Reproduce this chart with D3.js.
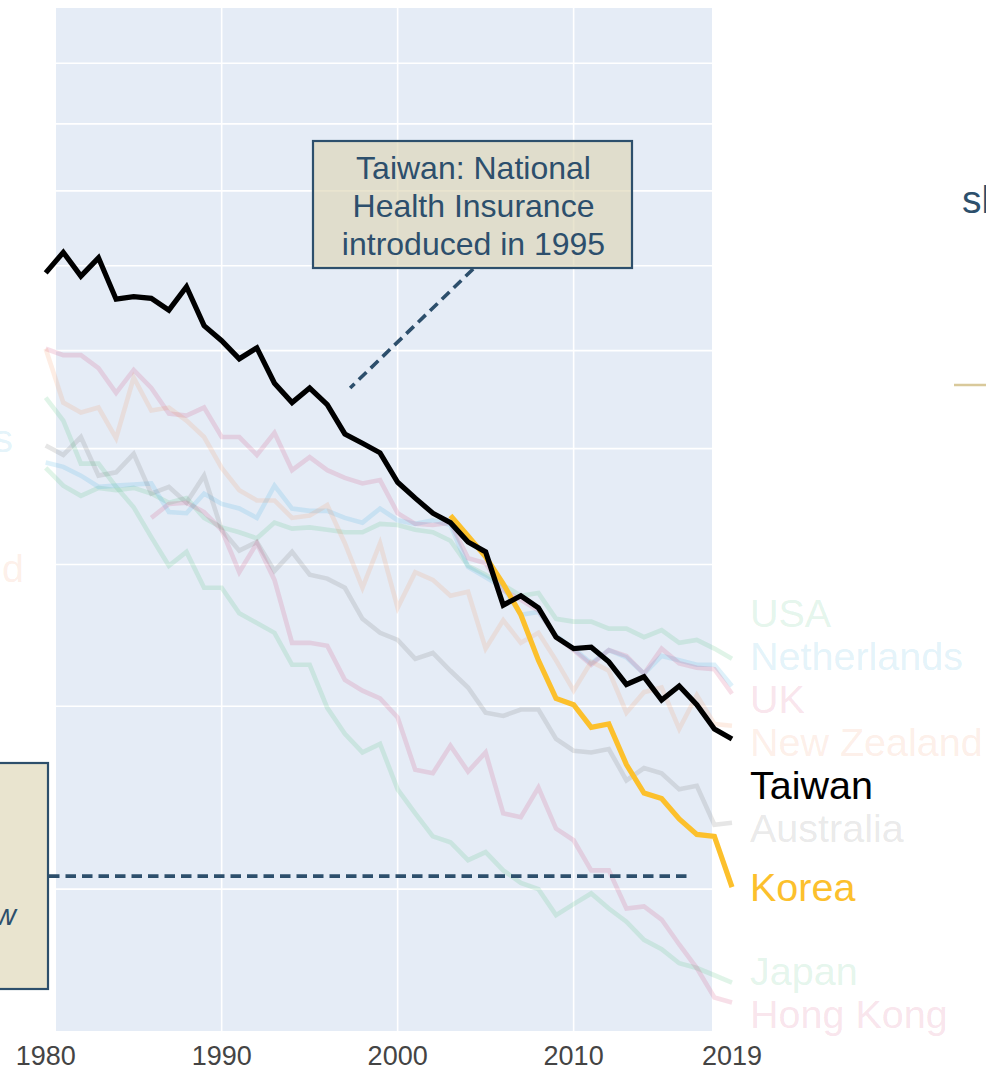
<!DOCTYPE html>
<html><head><meta charset="utf-8">
<script src="https://cdn.jsdelivr.net/npm/d3@7/dist/d3.min.js"></script>
<style>
body{margin:0;background:#fff;overflow:hidden;}
svg{display:block;font-family:Arial,"Liberation Sans",sans-serif;}
</style>
</head><body>
<svg id="chart" width="986" height="1074"></svg>
<script>
// ---------------- data ----------------
const years = d3.range(1980, 2020);
const xTickLabels = [1980, 1990, 2000, 2010, 2019];
const xGridYears = [1990, 2000, 2010];
const yGridValues = [3, 4, 5, 6, 7, 8, 9, 10, 11];

const countries = ["USA", "Netherlands", "UK", "New Zealand", "Taiwan", "Australia", "Korea", "Japan", "Hong Kong"];

const usa = [5.82, 5.66, 5.57, 5.64, 5.62, 5.64, 5.59, 5.51, 5.55, 5.38,
             5.30, 5.26, 5.21, 5.34, 5.29, 5.30, 5.28, 5.26, 5.26, 5.33,
             5.32, 5.28, 5.26, 5.19, 4.99, 4.92, 4.84, 4.76, 4.78, 4.59,
             4.57, 4.57, 4.52, 4.52, 4.46, 4.51, 4.42, 4.44, 4.38, 4.31];
const netherlands = [5.87, 5.83, 5.75, 5.65, 5.66, 5.67, 5.68, 5.43, 5.42, 5.59,
             5.50, 5.46, 5.38, 5.66, 5.46, 5.44, 5.44, 5.38, 5.34, 5.46,
             5.36, 5.33, 5.36, 5.32, 4.98, 4.90, 4.82, 4.62, 4.64, 4.47,
             4.38, 4.28, 4.37, 4.32, 4.21, 4.33, 4.30, 4.27, 4.27, 4.13];
const uk = [7.02, 6.95, 6.95, 6.81, 6.55, 6.79, 6.60, 6.34, 6.32, 6.40,
             6.11, 6.11, 5.94, 6.15, 5.80, 5.92, 5.80, 5.73, 5.68, 5.71,
             5.42, 5.33, 5.32, 5.34, 5.05, 5.01, 4.80, 4.73, 4.65, 4.46,
             4.37, 4.27, 4.37, 4.33, 4.21, 4.38, 4.28, 4.25, 4.24, 4.08];
const newZealand = [7.02, 6.45, 6.35, 6.40, 6.10, 6.71, 6.37, 6.40, 6.27, 6.11,
             5.82, 5.62, 5.53, 5.53, 5.38, 5.40, 5.49, 5.17, 4.82, 5.17,
             4.67, 4.94, 4.88, 4.76, 4.79, 4.38, 4.58, 4.42, 4.49, 4.30,
             4.10, 4.29, 4.23, 3.96, 4.09, 4.12, 3.86, 4.07, 3.89, 3.88];
const taiwan = [7.91, 8.17, 7.87, 8.10, 7.59, 7.62, 7.60, 7.46, 7.74, 7.28,
             7.11, 6.91, 7.03, 6.65, 6.45, 6.60, 6.43, 6.14, 6.05, 5.96,
             5.69, 5.55, 5.42, 5.34, 5.18, 5.10, 4.69, 4.76, 4.67, 4.46,
             4.38, 4.39, 4.29, 4.14, 4.19, 4.04, 4.13, 4.01, 3.86, 3.80];
const australia = [6.03, 5.94, 6.11, 5.75, 5.78, 5.95, 5.59, 5.65, 5.51, 5.75,
             5.28, 5.11, 5.18, 4.95, 5.10, 4.92, 4.89, 4.82, 4.59, 4.49,
             4.44, 4.31, 4.35, 4.23, 4.12, 3.96, 3.94, 3.98, 3.98, 3.80,
             3.73, 3.72, 3.74, 3.56, 3.63, 3.60, 3.51, 3.53, 3.32, 3.33];
// Korea: 2003-2019
const korea = [5.40, 5.23, 5.06, 4.85, 4.62, 4.30, 4.05, 4.01, 3.87, 3.89,
             3.65, 3.49, 3.46, 3.35, 3.27, 3.26, 3.01];
const japan = [6.50, 6.27, 5.86, 5.86, 5.65, 5.47, 5.22, 4.99, 5.10, 4.82,
             4.82, 4.63, 4.56, 4.49, 4.27, 4.27, 3.99, 3.83, 3.72, 3.77,
             3.51, 3.38, 3.26, 3.23, 3.14, 3.18, 3.09, 3.03, 3.00, 2.88,
             2.93, 2.98, 2.91, 2.85, 2.77, 2.73, 2.67, 2.65, 2.62, 2.59];
// Hong Kong: 1986-2019
const hongKong = [5.38, 5.50, 5.51, 5.43,
             5.28, 4.94, 5.17, 4.88, 4.42, 4.42, 4.40, 4.17, 4.10, 4.05,
             3.93, 3.62, 3.60, 3.76, 3.61, 3.72, 3.38, 3.36, 3.52, 3.30,
             3.24, 3.09, 3.09, 2.91, 2.92, 2.86, 2.75, 2.65, 2.53, 2.51];
const startYears = [1980, 1980, 1980, 1980, 1980, 1980, 2003, 1980, 1986];
const seriesValues = [usa, netherlands, uk, newZealand, taiwan, australia, korea, japan, hongKong];

const annotationText = ["Taiwan: National", "Health Insurance", "introduced in 1995"];

// ---------------- styles / layout ----------------
const colors = {
  "USA": "#3ebc73", "Netherlands": "#30a8de", "UK": "#d03773", "New Zealand": "#f28e58",
  "Taiwan": "#000000", "Australia": "#666666", "Korea": "#fcc02c", "Japan": "#3ebc73", "Hong Kong": "#d03773"
};
const highlighted = new Set(["Taiwan", "Korea"]);
const plot = {left: 56, right: 712, top: 8, bottom: 1031};
const navy = "#2d4f6c";
const labelSize = 39.5;

const svg = d3.select("#chart");
const x = d3.scaleLinear().domain([1980, 2019]).range([45.7, 732]);
const y = d3.scaleLog().domain([2.4, 12]).range([1031, 8]);

// background
svg.append("rect").attr("x", plot.left).attr("y", plot.top)
  .attr("width", plot.right - plot.left).attr("height", plot.bottom - plot.top)
  .attr("fill", "#E5ECF6");

// grid
svg.append("g").selectAll("line").data(yGridValues).join("line")
  .attr("x1", plot.left).attr("x2", plot.right)
  .attr("y1", d => y(d)).attr("y2", d => y(d))
  .attr("stroke", "#fff").attr("stroke-width", 1.6);
svg.append("g").selectAll("line").data(xGridYears).join("line")
  .attr("x1", d => x(d)).attr("x2", d => x(d))
  .attr("y1", plot.top).attr("y2", plot.bottom)
  .attr("stroke", "#fff").attr("stroke-width", 1.6);

// x tick labels
svg.append("g").selectAll("text").data(xTickLabels).join("text")
  .attr("x", d => x(d)).attr("y", 1065)
  .attr("text-anchor", "middle").attr("font-size", 27).attr("fill", "#444")
  .text(d => d);

// series
const series = countries.map((c, i) => ({
  name: c,
  points: seriesValues[i].map((v, j) => ({year: startYears[i] + j, value: v}))
}));

const line = d3.line().x(d => x(d.year)).y(d => y(d.value));
const order = ["USA", "Netherlands", "UK", "New Zealand", "Australia", "Japan", "Hong Kong", "Korea", "Taiwan"];
const gLines = svg.append("g");
order.forEach(name => {
  const s = series.find(d => d.name === name);
  const hi = highlighted.has(name);
  gLines.append("path").datum(s.points)
    .attr("d", line).attr("fill", "none")
    .attr("stroke", colors[name])
    .attr("stroke-width", hi ? 5.2 : 4.6)
    .attr("stroke-opacity", hi ? 1 : 0.16);
});

// end labels with simple cluster-based overlap avoidance
const gap = 43;
let items = series.map(s => ({name: s.name, target: y(s.points[s.points.length - 1].value)}))
  .sort((a, b) => a.target - b.target);
let clusters = items.map(it => ({members: [it]}));
function layoutCluster(c) {
  const mean = d3.mean(c.members, m => m.target);
  const n = c.members.length;
  c.members.forEach((m, k) => m.pos = mean - (n - 1) / 2 * gap + k * gap);
}
clusters.forEach(layoutCluster);
let merged = true;
while (merged) {
  merged = false;
  for (let i = 1; i < clusters.length; i++) {
    const a = clusters[i - 1], b = clusters[i];
    if (b.members[0].pos - a.members[a.members.length - 1].pos < gap) {
      a.members = a.members.concat(b.members);
      layoutCluster(a);
      clusters.splice(i, 1);
      merged = true;
      break;
    }
  }
}
svg.append("g").selectAll("text").data(items).join("text")
  .attr("x", x(2019) + 18).attr("y", d => d.pos + 14)
  .attr("font-size", labelSize)
  .attr("fill", d => colors[d.name])
  .attr("fill-opacity", d => highlighted.has(d.name) ? 1 : 0.15)
  .text(d => d.name);

// left-edge labels (neighbouring panel, cut off)
svg.append("text").attr("x", 13).attr("y", 452).attr("text-anchor", "end")
  .attr("font-size", labelSize).attr("fill", colors["Netherlands"]).attr("fill-opacity", 0.15).text("Netherlands");
svg.append("text").attr("x", 24).attr("y", 582).attr("text-anchor", "end")
  .attr("font-size", labelSize).attr("fill", colors["New Zealand"]).attr("fill-opacity", 0.15).text("New Zealand");

// annotation 1 : NHI box with dashed arrow
const head = [x(1997.3), y(6.6)];
const tail = [head[0] + 123, head[1] - 119];
svg.append("line").attr("x1", tail[0]).attr("y1", tail[1]).attr("x2", head[0]).attr("y2", head[1])
  .attr("stroke", navy).attr("stroke-width", 3.6).attr("stroke-dasharray", "10.5,6");
const box = {x: 313, y: 141, w: 319, h: 127};
svg.append("rect").attr("x", box.x).attr("y", box.y).attr("width", box.w).attr("height", box.h)
  .attr("fill", "rgb(221,213,181)").attr("fill-opacity", 0.65)
  .attr("stroke", navy).attr("stroke-width", 2.2);
svg.append("g").selectAll("text").data(annotationText).join("text")
  .attr("x", box.x + box.w / 2 + 1).attr("y", (d, i) => 179 + i * 38)
  .attr("text-anchor", "middle").attr("font-size", 32).attr("fill", navy)
  .text(d => d);

// annotation 2 : left box with horizontal dashed line
const hEnd = [x(2016.7), y(3.062)];
svg.append("line").attr("x1", 49).attr("y1", hEnd[1]).attr("x2", hEnd[0]).attr("y2", hEnd[1])
  .attr("stroke", navy).attr("stroke-width", 3.6).attr("stroke-dasharray", "10.5,6");
svg.append("rect").attr("x", -20).attr("y", 763).attr("width", 68).attr("height", 226)
  .attr("fill", "rgb(221,213,181)").attr("fill-opacity", 0.65)
  .attr("stroke", navy).attr("stroke-width", 2.2);
svg.append("text").attr("x", 16).attr("y", 925).attr("text-anchor", "end")
  .attr("font-size", 29).attr("font-style", "italic").attr("fill", navy).text("w");

// right-edge fragments (neighbouring panel)
svg.append("text").attr("x", 962).attr("y", 213).attr("font-size", 39)
  .attr("fill", navy).text("sl");
svg.append("line").attr("x1", 954).attr("x2", 986).attr("y1", 385).attr("y2", 385)
  .attr("stroke", "#d9c99b").attr("stroke-width", 2.5);
</script>
</body></html>
